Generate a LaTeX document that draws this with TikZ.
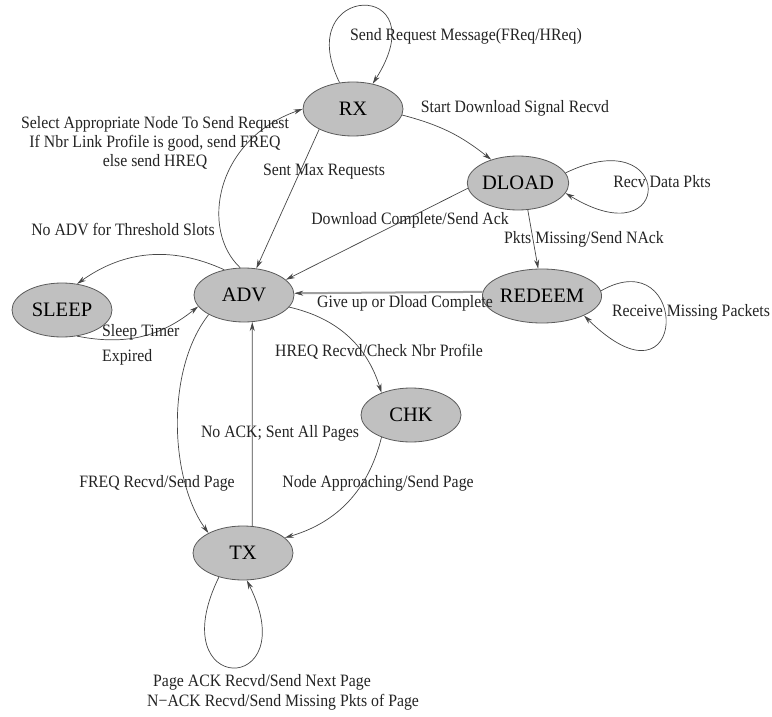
\documentclass[tikz,border=0pt]{standalone}
\usepackage{fontspec}
\setmainfont{Liberation Serif}
\usetikzlibrary{arrows.meta,shapes.geometric}
\definecolor{stfill}{RGB}{192,192,192}
\definecolor{stline}{RGB}{90,90,90}
\definecolor{edgec}{RGB}{70,70,70}
\definecolor{txtc}{RGB}{35,35,35}
\begin{document}
\begin{tikzpicture}[x=1pt,y=-1pt,
  state/.style={ellipse,draw=stline,fill=stfill,line width=0.8pt,minimum width=100pt,minimum height=54pt,inner sep=0pt,font=\fontsize{20.5}{22}\selectfont,text=black},
  lbl/.style={font=\fontsize{15.8}{17.5}\selectfont,text=txtc,inner sep=0pt,yscale=1.1},
  edge/.style={draw=edgec,line width=0.7pt,-{Stealth[length=9pt,width=5pt]}}]
\useasboundingbox (0,0) rectangle (772,717);
% states
\node[state] (RX) at (353,109) {RX};
\node[state] (DLOAD) at (518,183) {DLOAD};
\node[state] (ADV) at (244,295) {ADV};
\node[state] (SLEEP) at (62,310) {SLEEP};
\node[state] (REDEEM) at (542,296) {REDEEM};
\node[state] (CHK) at (411,415) {CHK};
\node[state] (TX) at (243,553) {TX};
% edges
\draw[edge] (RX.117) .. controls (290,-18) and (440,-22) .. (RX.52);
\draw[edge] (ADV.98) .. controls (200,230) and (215,140) .. (RX.180);
\draw[edge] (RX.211) -- (ADV.65);
\draw[edge] (RX.-7) to[bend left=12] (DLOAD.139);
\draw[edge] (DLOAD.12) .. controls (675,120) and (675,260) .. (DLOAD.-12);
\draw[edge] (DLOAD.186) -- (ADV.20);
\draw[edge] (DLOAD.-70) -- (REDEEM.98);
\draw[edge,draw=gray!75,line width=2pt,-{Stealth[length=9pt,width=5pt,color=edgec,fill=edgec,line width=0.5pt]}] (REDEEM.176) -- (ADV.2);
\draw[edge] (REDEEM.5) .. controls (690,240) and (690,420) .. (REDEEM.-25);
\draw[edge] (ADV.128) to[bend right=30] (SLEEP.60);
\draw[edge] (SLEEP.-60) to[bend right=25] (ADV.194);
\draw[edge] (ADV.-15) to[bend left=30] (CHK.143);
\draw[edge] (ADV.209) .. controls (165,370) and (170,480) .. (TX.150);
\draw[edge] (TX.71) -- (ADV.-73);
\draw[edge] (CHK.217) to[bend left=30] (TX.20);
\draw[edge] (TX.-135) .. controls (160,697) and (305,697) .. (TX.-82);
% labels
\node[lbl] (l1) at (466,36) {Send Request Message(FReq/HReq)};
\node[lbl,align=center] (l2) at (155,143) {Select Appropriate Node To Send Request\\If Nbr Link Profile is good, send FREQ\\else send HREQ};
\node[lbl] (l3) at (324,172) {Sent Max Requests};
\node[lbl] (l4) at (515,108) {Start Download Signal Recvd};
\node[lbl] (l5) at (662,182) {Recv Data Pkts};
\node[lbl] (l6) at (410,220) {Download Complete/Send Ack};
\node[lbl] (l7) at (584,239) {Pkts Missing/Send NAck};
\node[lbl] (l8) at (123,230) {No ADV for Threshold Slots};
\node[lbl] (l9) at (405,303) {Give up or Dload Complete};
\node[lbl] (l10) at (691,312) {Receive Missing Packets};
\node[lbl,anchor=west] (l11a) at (102,332) {Sleep Timer};
\node[lbl,anchor=west] (l11b) at (102,357) {Expired};
\node[lbl] (l12) at (379,352) {HREQ Recvd/Check Nbr Profile};
\node[lbl] (l13) at (280,433) {No ACK; Sent All Pages};
\node[lbl] (l14) at (157,483) {FREQ Recvd/Send Page};
\node[lbl] (l15) at (378,483) {Node Approaching/Send Page};
\node[lbl,anchor=west] (l16a) at (153,682) {Page ACK Recvd/Send Next Page};
\node[lbl,anchor=west] (l16b) at (147,702) {N\textminus ACK Recvd/Send Missing Pkts of Page};
\end{tikzpicture}
\end{document}
